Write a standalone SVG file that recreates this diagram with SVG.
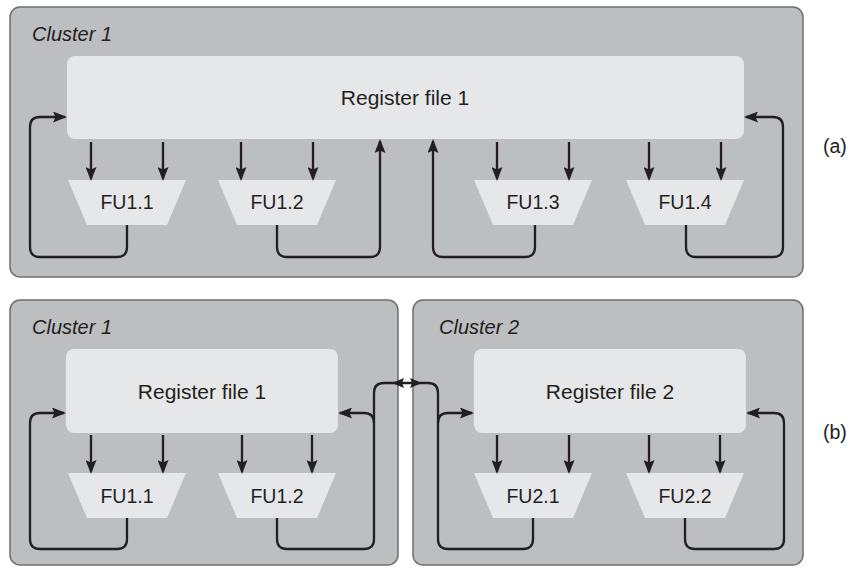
<svg xmlns="http://www.w3.org/2000/svg" width="850" height="568" viewBox="0 0 850 568">
<defs>
<marker id="ah" viewBox="0 0 14 11" markerWidth="14" markerHeight="11" refX="12" refY="5.5" markerUnits="userSpaceOnUse" orient="auto">
<path d="M0,0 L14,5.5 L0,11 L2.5,5.5 z" fill="#231f20"/>
</marker>
<polygon id="fu" points="-59,0 59,0 40,45 -40,45"/>
</defs>
<style>
.cl{fill:#bcbec0;stroke:#6d6e70;stroke-width:1.5}
.rf{fill:#e6e7e8}
.fu{fill:#e6e7e8}
text{font-family:"Liberation Sans",Arial,Helvetica,sans-serif;fill:#231f20;font-size:19.5px}
.it{font-style:italic;font-size:20px}
.big{font-size:21px}
.mid{text-anchor:middle}
.ln{fill:none;stroke:#231f20;stroke-width:2.3}
.ar{marker-end:url(#ah)}
.hd{fill:#231f20}
</style>
<rect width="850" height="568" fill="#ffffff"/>

<!-- Panel (a) -->
<g id="a-cluster1">
<rect class="cl" x="10" y="7" width="793" height="270" rx="10"/>
<text class="it" x="32" y="41">Cluster 1</text>
</g>
<g id="a-regfile1">
<rect class="rf" x="67" y="56" width="677" height="83" rx="8"/>
<text class="mid big" x="405" y="105">Register file 1</text>
</g>
<g id="a-fu11" transform="translate(127,180)"><use href="#fu" class="fu"/><text class="mid" x="0" y="29">FU1.1</text></g>
<g id="a-fu12" transform="translate(277,180)"><use href="#fu" class="fu"/><text class="mid" x="0" y="29">FU1.2</text></g>
<g id="a-fu13" transform="translate(533,180)"><use href="#fu" class="fu"/><text class="mid" x="0" y="29">FU1.3</text></g>
<g id="a-fu14" transform="translate(685,180)"><use href="#fu" class="fu"/><text class="mid" x="0" y="29">FU1.4</text></g>
<text x="823" y="153">(a)</text>

<g id="a-connectors">
<path class="ln ar" d="M91,142 V179"/>
<path class="ln ar" d="M163,142 V179"/>
<path class="ln ar" d="M241,142 V179"/>
<path class="ln ar" d="M313,142 V179"/>
<path class="ln ar" d="M497,142 V179"/>
<path class="ln ar" d="M569,142 V179"/>
<path class="ln ar" d="M649,142 V179"/>
<path class="ln ar" d="M721,142 V179"/>
<path class="ln ar" d="M127,225 V247 Q127,257 117,257 H40 Q30,257 30,247 V127 Q30,117 40,117 H65"/>
<path class="ln ar" d="M277,225 V247 Q277,257 287,257 H370 Q380,257 380,247 V141"/>
<path class="ln ar" d="M535,225 V247 Q535,257 525,257 H443 Q433,257 433,247 V141"/>
<path class="ln ar" d="M686,225 V247 Q686,257 696,257 H773 Q783,257 783,247 V127 Q783,117 773,117 H746"/>
</g>

<!-- Panel (b) -->
<g id="b-cluster1">
<rect class="cl" x="10" y="300" width="388" height="265" rx="10"/>
<text class="it" x="32" y="334">Cluster 1</text>
</g>
<g id="b-cluster2">
<rect class="cl" x="413" y="300" width="390" height="265" rx="10"/>
<text class="it" x="439" y="334">Cluster 2</text>
</g>
<g id="b-regfile1">
<rect class="rf" x="66" y="349" width="272" height="84" rx="8"/>
<text class="mid big" x="202" y="399">Register file 1</text>
</g>
<g id="b-regfile2">
<rect class="rf" x="474" y="349" width="272" height="84" rx="8"/>
<text class="mid big" x="610" y="399">Register file 2</text>
</g>
<g id="b-fu11" transform="translate(127,473)"><use href="#fu" class="fu"/><text class="mid" x="0" y="30">FU1.1</text></g>
<g id="b-fu12" transform="translate(277,473)"><use href="#fu" class="fu"/><text class="mid" x="0" y="30">FU1.2</text></g>
<g id="b-fu21" transform="translate(533,473)"><use href="#fu" class="fu"/><text class="mid" x="0" y="30">FU2.1</text></g>
<g id="b-fu22" transform="translate(685,473)"><use href="#fu" class="fu"/><text class="mid" x="0" y="30">FU2.2</text></g>
<text x="823" y="439">(b)</text>

<g id="b-connectors">
<path class="ln ar" d="M91,435 V472"/>
<path class="ln ar" d="M163,435 V472"/>
<path class="ln ar" d="M242,435 V472"/>
<path class="ln ar" d="M312,435 V472"/>
<path class="ln ar" d="M497,435 V472"/>
<path class="ln ar" d="M569,435 V472"/>
<path class="ln ar" d="M649,435 V472"/>
<path class="ln ar" d="M720,435 V472"/>
<path class="ln ar" d="M127,518 V539 Q127,549 117,549 H40 Q30,549 30,539 V423 Q30,413 40,413 H64"/>
<path class="ln" d="M277,518 V539 Q277,549 287,549 H364 Q374,549 374,539 V393 Q374,383 384,383 H428 Q438,383 438,393 V539 Q438,549 448,549 H523 Q533,549 533,539 V518"/>
<path class="ln ar" d="M374,423 Q374,413 364,413 H340"/>
<path class="ln ar" d="M438,423 Q438,413 448,413 H472"/>
<path class="ln ar" d="M685,518 V539 Q685,549 695,549 H774 Q784,549 784,539 V423 Q784,413 774,413 H748"/>
<path class="hd" d="M392,383 L404,378 L402,383 L404,388 z"/>
<path class="hd" d="M422,383 L410,378 L412,383 L410,388 z"/>
</g>
</svg>
